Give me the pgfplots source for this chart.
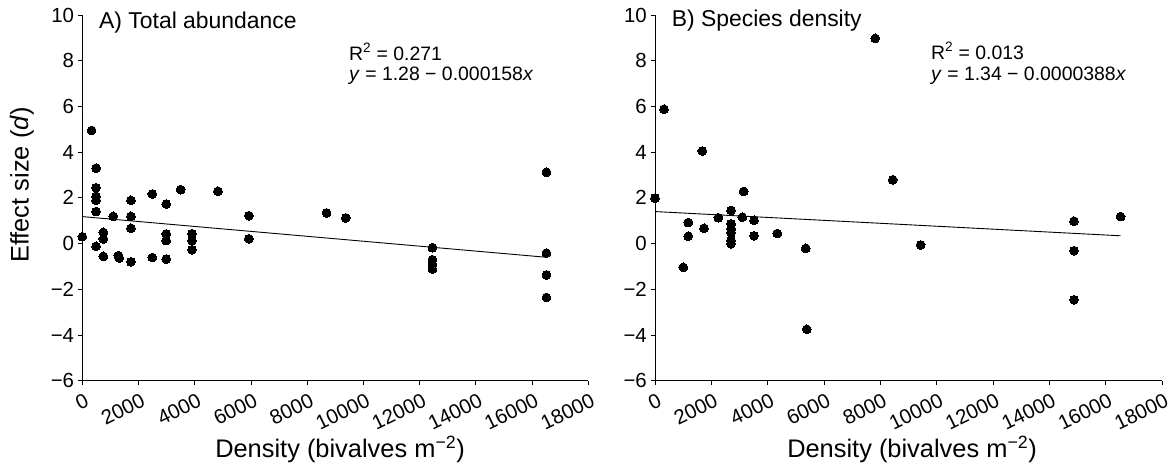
\documentclass[border=0pt]{standalone}
\usepackage{fontspec}
\setmainfont{Liberation Sans}
\usepackage{pgfplots}
\pgfplotsset{compat=1.18}
\begin{document}
\begin{tikzpicture}
\useasboundingbox (0,0) rectangle (1169bp,-465bp);
\pgfplotsset{
  myaxis/.style={
    anchor=south west, scale only axis,
    height=365.7bp,
    xmin=0, xmax=18000, ymin=-6, ymax=10,
    scaled x ticks=false, scaled y ticks=false,
    axis x line*=bottom, axis y line*=left,
    axis line style={line width=1bp, -},
    tick style={line width=0.9bp, black},
    tick align=outside, major tick length=4bp,
    xtick={0,2000,4000,6000,8000,10000,12000,14000,16000,18000},
    xticklabels={0,2000,4000,6000,8000,10000,12000,14000,16000,18000},
    ytick={-6,-4,-2,0,2,4,6,8,10},
    yticklabels={−6,−4,−2,0,2,4,6,8,10},
    x tick label style={font=\fontsize{20.5}{24}\selectfont, rotate=26, anchor=north east, inner sep=2bp, yshift=-6bp},
    y tick label style={font=\fontsize{20.5}{24}\selectfont, inner sep=4bp},
    clip=false,
  },
  dots/.style={only marks, mark=*, mark size=4.4bp, mark options={fill=black, draw=black, line width=0pt}},
  fit/.style={no marks, black, line width=0.9bp},
}
\begin{axis}[myaxis, at={(82.3bp,-380.7bp)}, width=506bp]
\addplot[dots] coordinates {
(0,0.30) (330,4.95)
(490,3.30) (490,2.44) (490,2.07) (490,1.89) (490,1.40) (490,-0.12)
(750,0.49) (750,0.20) (750,-0.56)
(1100,1.19) (1280,-0.53) (1315,-0.63)
(1730,1.89) (1730,1.19) (1730,0.67) (1730,-0.80)
(2490,2.17) (2490,-0.61)
(2985,1.73) (2985,0.42) (2985,0.13) (2985,-0.68)
(3500,2.36)
(3900,0.43) (3900,0.13) (3900,-0.27)
(4825,2.29)
(5925,1.22) (5925,0.21)
(8690,1.34) (9375,1.12)
(12455,-0.18) (12455,-0.71) (12455,-0.93) (12455,-1.12)
(16510,3.12) (16510,-0.42) (16510,-1.37) (16510,-2.36)
};
\addplot[fit] coordinates {(0,1.18) (16510,-0.60)};
\end{axis}
\begin{axis}[myaxis, at={(655bp,-380.7bp)}, width=507bp]
\addplot[dots] coordinates {
(0,1.99) (320,5.88) (1005,-1.04)
(1180,0.92) (1180,0.32)
(1680,4.05) (1740,0.67) (2250,1.13)
(2700,1.45) (2700,0.86) (2700,0.64) (2700,0.47) (2700,0.13) (2700,-0.01)
(3100,1.15) (3150,2.28)
(3515,1.02) (3515,0.34)
(4340,0.44) (5350,-0.21) (5390,-3.75)
(7820,8.98) (8440,2.79) (9430,-0.06)
(14875,0.98) (14875,-0.31) (14875,-2.46)
(16530,1.18)
};
\addplot[fit] coordinates {(0,1.40) (16530,0.34)};
\end{axis}
\node[anchor=base west, font=\fontsize{23}{26}\selectfont, inner sep=0pt] at (99bp,-28.5bp) {A) Total abundance};
\node[anchor=base west, font=\fontsize{23}{26}\selectfont, inner sep=0pt] at (671.7bp,-26bp) {B) Species density};
\node[anchor=base west, font=\fontsize{19.5}{22}\selectfont, inner sep=0pt] at (349bp,-60bp) {R\textsuperscript{2} = 0.271};
\node[anchor=base west, font=\fontsize{19.5}{22}\selectfont, inner sep=0pt] at (349bp,-80bp) {\textit{y} = 1.28 − 0.000158\textit{x}};
\node[anchor=base west, font=\fontsize{19.5}{22}\selectfont, inner sep=0pt] at (931bp,-59.3bp) {R\textsuperscript{2} = 0.013};
\node[anchor=base west, font=\fontsize{19.5}{22}\selectfont, inner sep=0pt] at (931bp,-80bp) {\textit{y} = 1.34 − 0.0000388\textit{x}};
\node[rotate=90, font=\fontsize{25.5}{28}\selectfont, inner sep=0pt] at (22bp,-185bp) {Effect size (\textit{d})};
\node[anchor=base, font=\fontsize{25.5}{28}\selectfont, inner sep=0pt] at (340bp,-457bp) {Density (bivalves m\textsuperscript{−2})};
\node[anchor=base, font=\fontsize{25.5}{28}\selectfont, inner sep=0pt] at (912bp,-457bp) {Density (bivalves m\textsuperscript{−2})};
\end{tikzpicture}
\end{document}
